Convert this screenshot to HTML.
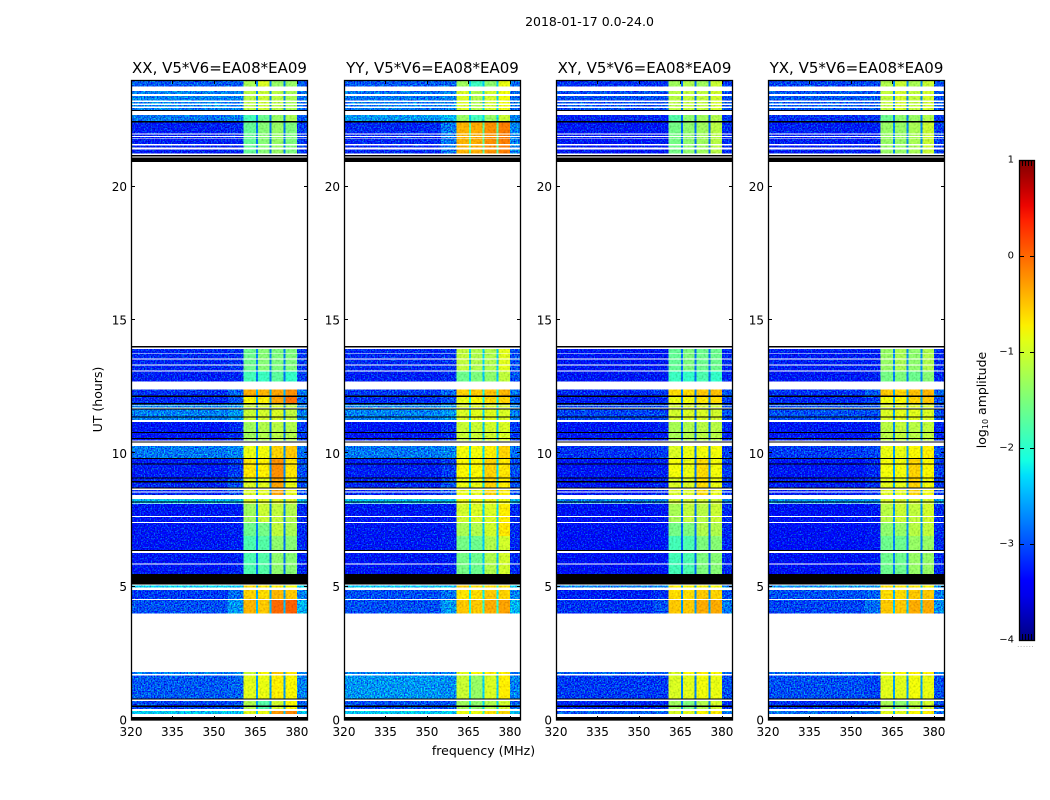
<!DOCTYPE html>
<html>
<head>
<meta charset="utf-8">
<title>2018-01-17 amplitude spectrogram</title>
<style>
html,body{margin:0;padding:0;background:#fff;}
svg{display:block;font-family:"DejaVu Sans","Liberation Sans",sans-serif;fill:#000;}
</style>
</head>
<body>
<svg id="chart" xmlns="http://www.w3.org/2000/svg" width="1050" height="800" viewBox="0 0 1050 800">
<defs>
<filter id="speckle" filterUnits="userSpaceOnUse" x="0" y="0" width="1050" height="800" color-interpolation-filters="sRGB">
<feTurbulence type="fractalNoise" baseFrequency="0.7" numOctaves="1" seed="4" result="n"/>
<feColorMatrix in="n" type="matrix" values="0 0 0 0 0.5  1.7 0 0 0 -0.35  0 1.3 0 0 -0.15  0 0 0 0 1" result="g"/>
<feComposite in="SourceGraphic" in2="g" operator="arithmetic" k1="0" k2="1" k3="1" k4="-0.5" result="mixed"/>
<feComposite in="mixed" in2="SourceGraphic" operator="in"/>
</filter>
<filter id="speckle-soft" filterUnits="userSpaceOnUse" x="0" y="0" width="1050" height="800" color-interpolation-filters="sRGB">
<feTurbulence type="fractalNoise" baseFrequency="0.5" numOctaves="1" seed="9" result="n"/>
<feColorMatrix in="n" type="matrix" values="1 0 0 0 0 1 0 0 0 0 1 0 0 0 0 0 0 0 0 1" result="g"/>
<feComposite in="SourceGraphic" in2="g" operator="arithmetic" k1="0.5" k2="0.75" k3="0" k4="0"/>
</filter>
<linearGradient id="jet-gradient" x1="0" y1="1" x2="0" y2="0"></linearGradient>
</defs>
<text x="589.5" y="26" font-size="12.5" text-anchor="middle">2018-01-17 0.0-24.0</text>
<text x="483.5" y="755" font-size="12.5" text-anchor="middle">frequency (MHz)</text>
<text transform="translate(102,399.5) rotate(-90)" font-size="12.5" text-anchor="middle">UT (hours)</text>
<text transform="translate(986,400) rotate(-90)" font-size="12.5" text-anchor="middle">log<tspan font-size="8" dy="2">10</tspan><tspan dy="-2"> amplitude</tspan></text>
<g id="panels"></g>
<g id="colorbar"></g>
</svg>
<script>
// Axis ranges and tick labels
const freqTicks = [320, 335, 350, 365, 380];
const utTicks = [0, 5, 10, 15, 20];
const colorTicks = [1, 0, -1, -2, -3, -4];
const freqRange = [320, 384];
const utRange = [0, 24];
const colorRange = [-4, 1];

// Frequency columns (MHz) shared by every panel; value index per column in a level row
const freqColumns = [
  [320, 355, 0], [355, 360.6, 1], [360.6, 365.2, 2], [365.2, 366, 7], [366, 370, 3],
  [370, 370.8, 7], [370.8, 375.1, 4], [375.1, 375.8, 7], [375.8, 380, 5], [380, 384, 6]
];

// Time strips (UT hours) and spectral block id; '#' is a flagged black strip, blank time is white
const utStrips = [
  [0,0.12,'#'],[0.22,0.34,'W'],[0.42,0.49,'V'],[0.49,0.55,'#'],[0.55,0.71,'V'],[0.79,0.81,'#'],
  [0.81,1.66,'U'],[1.72,1.8,'T'],[4,4.5,'S'],[4.54,4.88,'R'],[4.96,5.04,'Q'],[5.08,5.48,'#'],
  [5.48,5.83,'P'],[5.87,6.27,'P'],[6.33,6.37,'#'],[6.37,6.9,'P'],[6.9,7.38,'O'],[7.42,7.61,'N'],
  [7.65,8.1,'N'],[8.14,8.16,'M'],[8.16,8.2,'#'],[8.2,8.28,'M'],[8.44,8.53,'L'],[8.57,8.62,'L'],
  [8.68,8.72,'#'],[8.72,8.91,'L'],[8.91,8.96,'#'],[8.96,9.06,'L'],[9.06,9.09,'#'],[9.09,9.58,'K'],
  [9.58,9.62,'#'],[9.62,9.79,'K'],[9.79,9.82,'#'],[9.82,10.27,'J'],[10.4,10.44,'#'],[10.48,10.53,'I'],
  [10.53,10.57,'#'],[10.57,10.76,'I'],[10.76,10.8,'#'],[10.8,11.18,'I'],[11.25,11.36,'H'],[11.36,11.39,'#'],
  [11.39,11.64,'H'],[11.64,11.68,'#'],[11.72,11.77,'H'],[11.81,11.84,'H'],[11.84,11.88,'#'],[11.88,12.12,'G'],
  [12.12,12.16,'#'],[12.16,12.4,'F'],[12.69,13.06,'X'],[13.1,13.29,'E'],[13.33,13.52,'E'],[13.55,13.74,'E'],
  [13.77,13.91,'E'],[13.97,14.02,'#'],[20.93,21.09,'#'],[21.14,21.18,'#'],[21.24,21.4,'D'],[21.46,21.55,'D'],
  [21.6,21.8,'D'],[21.82,21.86,'D'],[21.9,21.95,'D'],[21.99,22.4,'D'],[22.4,22.47,'#'],[22.47,22.69,'C'],
  [22.85,22.88,'#'],[22.88,22.95,'B'],[23,23.06,'B'],[23.11,23.17,'B'],[23.23,23.3,'B'],[23.3,23.4,'B'],
  [23.48,23.59,'B'],[23.75,24,'A']
];

// log10 amplitude per block: [bgLeft, bgMid, band1, band2, band3, band4, bgRight, notch]
const levelsXX = {
  A:[-2.95,-2.95,-1.25,-0.95,-1.35,-1.35,-2.95,-2.75], B:[-2.75,-2.75,-1.15,-1.05,-1.15,-1.25,-2.85,-2.7],
  C:[-2.8,-2.75,-1.85,-1.6,-1.35,-1.25,-2.95,-2.75], D:[-3.25,-3.2,-1.65,-1.45,-1.35,-1.5,-3.1,-2.8],
  E:[-3.2,-3.15,-1.6,-1.45,-1.5,-1.5,-3.1,-2.75], X:[-3.25,-3.2,-1.85,-1.9,-1.7,-1.95,-3.1,-2.8],
  F:[-3.15,-2.9,-0.35,-0.4,-0.3,-0.2,-2.8,-2.5], G:[-3.2,-3,-0.75,-0.7,-0.3,-0.05,-2.9,-2.6],
  H:[-2.75,-2.65,-1.05,-1,-0.95,-1.1,-2.75,-2.7], I:[-3.3,-3.2,-1.3,-1.2,-1.15,-1.2,-3.1,-2.8],
  J:[-2.8,-2.75,-0.85,-0.8,-0.55,-0.5,-2.85,-2.65], K:[-3.25,-3.1,-0.65,-0.7,-0.2,-0.65,-3,-2.7],
  L:[-3.2,-3,-0.95,-0.9,-0.3,-0.85,-3,-2.7], M:[-2.45,-2.45,-0.95,-0.9,-0.9,-0.95,-2.45,-2.5],
  N:[-3.3,-3.25,-1.3,-1.05,-1.1,-1.2,-3.2,-2.75], O:[-3.3,-3.25,-1.6,-1.55,-1.1,-1.25,-3.2,-2.75],
  P:[-3.3,-3.25,-1.8,-1.75,-1.4,-1.45,-3.2,-2.85], Q:[-2.35,-2.35,-0.6,-0.7,-0.7,-0.8,-2.35,-2.4],
  R:[-3.1,-2.85,-0.55,-0.6,-0.4,-0.5,-2.75,-2.55], S:[-3,-2.65,-0.4,-0.5,0,0.05,-2.5,-2.45],
  T:[-2.75,-2.75,-1.05,-0.75,-0.5,-0.65,-2.75,-2.6], U:[-2.95,-2.9,-0.9,-0.85,-0.7,-0.75,-2.75,-2.6],
  V:[-3.05,-3,-1.2,-1.75,-1,-0.75,-2.9,-2.6], W:[-2.4,-2.4,-0.9,-0.85,-0.25,-0.15,-2.45,-2.4]
};
const levelsYY = {
  A:[-2.95,-2.9,-1.3,-1.9,-1.4,-0.85,-2.85,-2.4], B:[-2.8,-2.75,-0.95,-1.2,-1,-0.8,-2.85,-2.35],
  C:[-2.65,-2.5,-1.35,-1.85,-1.35,-1.05,-2.75,-2.3], D:[-3.2,-2.8,-0.4,-0.35,-0.2,-0.1,-2.75,-1.7],
  E:[-3.2,-3.15,-1.1,-1.2,-1.2,-0.9,-3,-2.35], X:[-3.25,-3.2,-1.6,-1.5,-1.4,-1.1,-3,-2.4],
  F:[-3.1,-2.9,-0.55,-0.5,-0.45,-0.4,-2.8,-2.1], G:[-3.15,-3,-0.85,-0.75,-0.6,-0.55,-2.9,-2.2],
  H:[-2.75,-2.65,-0.95,-0.9,-0.9,-0.95,-2.75,-2.3], I:[-3.3,-3.2,-1.05,-1.05,-1,-0.95,-3.1,-2.4],
  J:[-2.8,-2.75,-0.8,-0.8,-0.7,-0.55,-2.85,-2.3], K:[-3.25,-3.1,-0.75,-0.75,-0.55,-0.65,-3,-2.3],
  L:[-3.2,-3,-0.85,-0.85,-0.55,-0.7,-3,-2.3], M:[-2.45,-2.45,-0.8,-0.8,-0.8,-0.8,-2.45,-2.1],
  N:[-3.3,-3.25,-1,-0.95,-0.95,-0.7,-3.2,-2.3], O:[-3.3,-3.25,-1.25,-1.2,-1,-0.65,-3.2,-2.4],
  P:[-3.3,-3.25,-1.55,-1.6,-1.2,-1,-3.2,-2.4], Q:[-2.4,-2.4,-0.55,-0.65,-0.6,-0.65,-2.35,-2],
  R:[-3,-2.85,-0.65,-0.6,-0.5,-0.55,-2.75,-2.2], S:[-3,-2.65,-0.5,-0.5,-0.35,-0.3,-2.5,-2],
  T:[-2.75,-2.75,-0.9,-0.75,-0.7,-0.7,-2.75,-2.3], U:[-2.65,-2.7,-1.05,-1.35,-0.95,-0.7,-2.75,-2.35],
  V:[-3,-2.95,-1.3,-1.4,-1.2,-1,-2.9,-2.3], W:[-2.4,-2.4,-0.85,-0.85,-0.65,-0.6,-2.45,-2]
};
const levelsXY = {
  A:[-3.15,-3.15,-1.3,-1.2,-1.3,-1.05,-3.1,-2.85], B:[-3,-3,-1.15,-1.1,-1.1,-1,-3,-2.8],
  C:[-3.2,-3.2,-1.75,-1.4,-1.3,-1.2,-3.1,-2.85], D:[-3.3,-3.3,-1.55,-1.4,-1.3,-1.15,-3.2,-2.85],
  E:[-3.3,-3.3,-1.65,-1.5,-1.6,-1.6,-3.2,-2.85], X:[-3.3,-3.3,-1.9,-1.95,-1.8,-1.95,-3.2,-2.85],
  F:[-3.2,-3.1,-0.6,-0.6,-0.5,-0.45,-3,-2.75], G:[-3.25,-3.2,-0.85,-0.8,-0.65,-0.6,-3.1,-2.8],
  H:[-3.05,-3.05,-1,-0.95,-0.95,-1,-3,-2.8], I:[-3.3,-3.25,-1.25,-1.2,-1.15,-1.15,-3.2,-2.85],
  J:[-3.15,-3.1,-0.95,-0.85,-0.8,-0.8,-3.1,-2.8], K:[-3.3,-3.25,-0.8,-0.85,-0.6,-0.8,-3.1,-2.8],
  L:[-3.3,-3.2,-0.95,-0.95,-0.6,-0.85,-3.1,-2.8], M:[-2.75,-2.75,-1,-1,-1,-1,-2.75,-2.6],
  N:[-3.35,-3.3,-1.25,-1.1,-1.15,-1.05,-3.2,-2.85], O:[-3.35,-3.3,-1.55,-1.5,-1.2,-1.2,-3.2,-2.85],
  P:[-3.35,-3.3,-1.85,-1.8,-1.5,-1.45,-3.2,-2.9], Q:[-2.75,-2.75,-0.7,-0.75,-0.75,-0.8,-2.75,-2.55],
  R:[-3.25,-3.15,-0.6,-0.6,-0.5,-0.55,-3,-2.7], S:[-3.15,-3,-0.5,-0.5,-0.35,-0.35,-2.8,-2.6],
  T:[-2.9,-2.9,-0.95,-0.75,-0.7,-0.75,-2.8,-2.6], U:[-3.1,-3.1,-0.95,-0.9,-0.8,-0.85,-3,-2.75],
  V:[-3.2,-3.2,-1.3,-1.5,-1.2,-1,-3.1,-2.75], W:[-2.9,-2.9,-0.95,-0.9,-0.75,-0.7,-2.8,-2.55]
};
const levelsYX = {
  A:[-3.05,-3.05,-1.2,-1.05,-1.25,-1.05,-3,-2.7], B:[-2.95,-2.95,-1.1,-1,-1.1,-1,-3,-2.7],
  C:[-3.15,-3.1,-1.6,-1.4,-1.35,-1.2,-3.1,-2.75], D:[-3.25,-3.25,-1.35,-1.35,-1.25,-1.05,-3.1,-2.7],
  E:[-3.25,-3.25,-1.35,-1.25,-1.4,-1.2,-3.2,-2.7], X:[-3.3,-3.25,-1.55,-1.5,-1.6,-1.45,-3.2,-2.75],
  F:[-3.15,-2.95,-0.5,-0.55,-0.45,-0.4,-2.9,-2.55], G:[-3.2,-3.1,-0.8,-0.75,-0.55,-0.5,-3,-2.6],
  H:[-3,-3,-0.95,-0.9,-0.9,-0.95,-3,-2.6], I:[-3.3,-3.25,-1.15,-1.1,-1.15,-1.1,-3.2,-2.7],
  J:[-3.1,-3.05,-0.85,-0.85,-0.75,-0.7,-3,-2.6], K:[-3.3,-3.2,-0.8,-0.8,-0.55,-0.75,-3.1,-2.6],
  L:[-3.25,-3.15,-0.9,-0.9,-0.55,-0.8,-3.1,-2.6], M:[-2.65,-2.65,-0.95,-0.95,-0.95,-0.95,-2.65,-2.4],
  N:[-3.35,-3.3,-1.15,-1.05,-1.1,-1,-3.2,-2.65], O:[-3.35,-3.3,-1.4,-1.35,-1.15,-1.1,-3.2,-2.65],
  P:[-3.35,-3.3,-1.6,-1.6,-1.35,-1.35,-3.2,-2.75], Q:[-2.65,-2.65,-0.65,-0.7,-0.7,-0.75,-2.65,-2.4],
  R:[-3,-2.9,-0.6,-0.6,-0.5,-0.5,-2.8,-2.5], S:[-3.05,-2.85,-0.5,-0.5,-0.35,-0.35,-2.7,-2.4],
  T:[-2.85,-2.85,-0.9,-0.75,-0.7,-0.7,-2.8,-2.5], U:[-3,-3.05,-0.9,-0.9,-0.8,-0.85,-3,-2.6],
  V:[-3.15,-3.1,-1.25,-1.4,-1.15,-1,-3,-2.6], W:[-2.85,-2.85,-0.9,-0.9,-0.75,-0.7,-2.8,-2.45]
};
const panelTitles = ['XX, V5*V6=EA08*EA09', 'YY, V5*V6=EA08*EA09', 'XY, V5*V6=EA08*EA09', 'YX, V5*V6=EA08*EA09'];
const panelLevels = [levelsXX, levelsYY, levelsXY, levelsYX];
const panelSlugs = ['xx', 'yy', 'xy', 'yx'];

// Layout
const NS = 'http://www.w3.org/2000/svg';
const plotLefts = [131, 344, 556, 768];
const plotWidth = 177, plotTop = 80, plotBottom = 720;

function node(tag, parent, attrs) {
  const el = document.createElementNS(NS, tag);
  for (const k in attrs) el.setAttribute(k, attrs[k]);
  parent.appendChild(el);
  return el;
}
function xScale(left, f) { return left + (f - freqRange[0]) / (freqRange[1] - freqRange[0]) * plotWidth; }
function yScale(t) { return plotBottom - (t - utRange[0]) / (utRange[1] - utRange[0]) * (plotBottom - plotTop); }
function cScale(v) { return 640 - (v - colorRange[0]) / (colorRange[1] - colorRange[0]) * 480; }
function piece(stops, t) {
  for (let i = 1; i < stops.length; i++) {
    if (t <= stops[i][0]) {
      const a = stops[i - 1], b = stops[i];
      return a[1] + (b[1] - a[1]) * (t - a[0]) / (b[0] - a[0]);
    }
  }
  return stops[stops.length - 1][1];
}
function jet(t) {
  t = Math.max(0, Math.min(1, t));
  const r = piece([[0,0],[0.35,0],[0.66,1],[0.89,1],[1,0.5]], t);
  const g = piece([[0,0],[0.125,0],[0.375,1],[0.64,1],[0.91,0],[1,0]], t);
  const b = piece([[0,0.5],[0.11,1],[0.34,1],[0.65,0],[1,0]], t);
  return 'rgb(' + Math.round(r * 255) + ',' + Math.round(g * 255) + ',' + Math.round(b * 255) + ')';
}
function colorOf(v) { return jet((v - colorRange[0]) / (colorRange[1] - colorRange[0])); }

const panelsRoot = document.getElementById('panels');
plotLefts.forEach(function (left, p) {
  const slug = panelSlugs[p];
  const levels = panelLevels[p];
  const panel = node('g', panelsRoot, {});
  
  

  const title = node('text', panel, { x: left + plotWidth / 2, y: 73, 'font-size': 15, 'text-anchor': 'middle' });
  
  
  title.textContent = panelTitles[p];

  const bgCells = node('g', panel, { filter: 'url(#speckle)', 'shape-rendering': 'crispEdges' });
  
  
  const bandCells = node('g', panel, { filter: 'url(#speckle-soft)', 'shape-rendering': 'crispEdges' });
  
  
  const flagCells = node('g', panel, { 'shape-rendering': 'crispEdges' });
  
  

  utStrips.forEach(function (s) {
    const yTop = yScale(s[1]), yBot = yScale(s[0]);
    if (s[2] === '#') {
      const flag = node('rect', flagCells, { x: left, y: yTop, width: plotWidth, height: Math.max(1, yBot - yTop), fill: '#000' });
      
      
      return;
    }
    const row = levels[s[2]];
    freqColumns.forEach(function (c) {
      const isBg = c[2] < 2 || c[2] === 6;
      const x0 = xScale(left, c[0]), x1 = xScale(left, c[1]);
      const cell = node('rect', isBg ? bgCells : bandCells, {
        x: x0, y: yTop, width: x1 - x0, height: Math.max(1, yBot - yTop), fill: colorOf(row[c[2]])
      });
      
      
    });
  });

  const frame = node('rect', panel, { x: left + 0.5, y: plotTop + 0.5, width: plotWidth - 1, height: plotBottom - plotTop - 0.5, fill: 'none', stroke: '#000', 'stroke-width': 1.3 });
  
  

  freqTicks.forEach(function (f) {
    const x = Math.round(xScale(left, f)) + 0.5;
    [[plotBottom, plotBottom - 4], [plotTop, plotTop + 4]].forEach(function (v) {
      const t = node('line', panel, { x1: x, x2: x, y1: v[0], y2: v[1], stroke: '#000' });
      
      
    });
    const lab = node('text', panel, { x: xScale(left, f), y: 736, 'font-size': 12, 'text-anchor': 'middle' });
    
    
    lab.textContent = f;
  });
  utTicks.forEach(function (u) {
    const y = Math.round(yScale(u)) - 0.5;
    [[left, left + 4], [left + plotWidth, left + plotWidth - 4]].forEach(function (v) {
      const t = node('line', panel, { x1: v[0], x2: v[1], y1: y, y2: y, stroke: '#000' });
      
      
    });
    const lab = node('text', panel, { x: left - 4, y: yScale(u) + 4.5, 'font-size': 12, 'text-anchor': 'end' });
    
    
    lab.textContent = u;
  });
});

// Colorbar
const grad = document.getElementById('jet-gradient');
for (let i = 0; i <= 32; i++) {
  node('stop', grad, { offset: (i / 32), 'stop-color': jet(i / 32) });
}
const cbRoot = document.getElementById('colorbar');
const bar = node('rect', cbRoot, { x: 1019.5, y: 160.5, width: 15, height: 480, fill: 'url(#jet-gradient)', stroke: '#000', 'stroke-width': 1.3 });


colorTicks.forEach(function (v) {
  const y = Math.round(cScale(v)) + 0.5;
  if (v !== 1 && v !== -4) {
    [[1019.5, 1024], [1034.5, 1030]].forEach(function (s) {
      const t = node('line', cbRoot, { x1: s[0], x2: s[1], y1: y, y2: y, stroke: '#000' });
      
      
    });
  }
  const lab = node('text', cbRoot, { x: 1014, y: cScale(v) + 2.5, 'font-size': 10, 'text-anchor': 'end' });
  
  
  lab.textContent = String(v).replace('-', '\u2212');
});
[1022, 1025, 1028, 1031].forEach(function (x) {
  [[160, 166], [640, 634]].forEach(function (v) {
    const t = node('line', cbRoot, { x1: x + 0.5, x2: x + 0.5, y1: v[0], y2: v[1], stroke: '#000' });
    
    
  });
});
const dots = node('text', cbRoot, { x: 1026, y: 647, 'font-size': 6, 'text-anchor': 'middle', fill: '#666', 'letter-spacing': 1 });


dots.textContent = '......';
</script>
</body>
</html>
